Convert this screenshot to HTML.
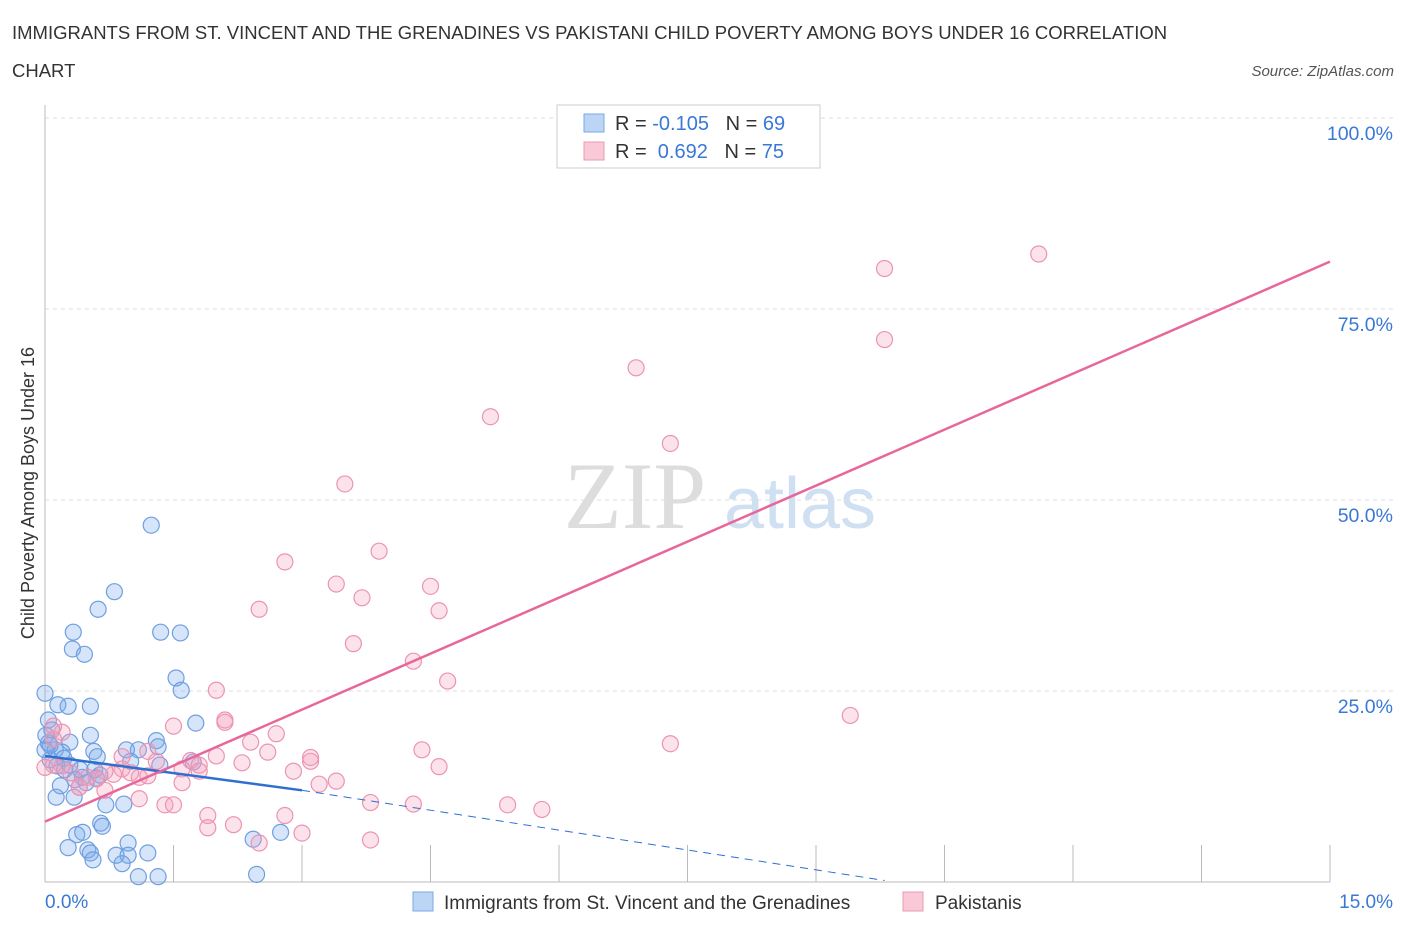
<!DOCTYPE html>
<html><head><meta charset="utf-8"><style>
body{margin:0;background:#fff;font-family:"Liberation Sans",sans-serif}
</style></head><body>
<svg id="c" width="1406" height="930" style="position:absolute;left:0;top:0">
<text x="12" y="39" font-size="18.5" fill="#333">IMMIGRANTS FROM ST. VINCENT AND THE GRENADINES VS PAKISTANI CHILD POVERTY AMONG BOYS UNDER 16 CORRELATION</text>
<text x="12" y="77" font-size="18.5" fill="#333">CHART</text>
<text x="1394" y="76" font-size="15" fill="#555" font-style="italic" text-anchor="end">Source: ZipAtlas.com</text>
<text x="635" y="528" font-size="95" fill="#ddd" font-family="Liberation Serif" text-anchor="middle">ZIP</text>
<text x="800" y="528" font-size="72" fill="#cfe0f3" text-anchor="middle">atlas</text>
<text transform="translate(34,493) rotate(-90)" font-size="18" fill="#333" text-anchor="middle">Child Poverty Among Boys Under 16</text>
<g id="grid"></g><g id="pts"></g><g id="lines"></g>
<text x="45" y="908" font-size="19" fill="#3a78d6">0.0%</text>
<text x="1393" y="908" font-size="19" fill="#3a78d6" text-anchor="end">15.0%</text>
<g>
<rect x="557" y="105" width="263" height="63" fill="#fff" stroke="#ccc"/>
<rect x="584" y="114" width="20" height="18" fill="#bcd5f5" stroke="#7aa7e6"/>
<rect x="584" y="142" width="20" height="18" fill="#f9c9d8" stroke="#eb9ab5"/>
<text x="615" y="130" font-size="20" fill="#333" xml:space="preserve">R = <tspan fill="#3a78d6">-0.105</tspan>   N = <tspan fill="#3a78d6">69</tspan></text>
<text x="615" y="158" font-size="20" fill="#333" xml:space="preserve">R =  <tspan fill="#3a78d6">0.692</tspan>   N = <tspan fill="#3a78d6">75</tspan></text>
</g>
<g>
<rect x="413" y="892" width="20" height="19" fill="#bcd5f5" stroke="#7aa7e6"/>
<text x="444" y="909" font-size="19" fill="#333">Immigrants from St. Vincent and the Grenadines</text>
<rect x="903" y="892" width="20" height="19" fill="#f9c9d8" stroke="#eb9ab5"/>
<text x="935" y="909" font-size="19" fill="#333">Pakistanis</text>
</g>
</svg>
<script>
const yTicks=[25,50,75,100];
const blueX=[0,0.15,0.04,0.27,0.08,0.53,0.33,0.32,0.46,0.62,0.81,1.24,1.35,1.58,1.53,1.59,1.76,1.30,1.32,1.09,0.95,0.53,0.57,0.29,0.04,0.12,0.20,0.06,0.14,0.23,0.61,0.58,0.35,0.44,0.48,0.18,0.13,0.34,0.71,0.92,1.00,1.34,1.73,0.60,0.37,0.44,0.27,0.50,0.53,0.56,0.65,0.67,0.97,0.97,1.20,0.83,0.90,1.09,1.32,2.47,2.43,2.75,0,0.06,0.22,0.29,0.41,0.64,0.01];
const blueY=[24.7,23.2,21.2,23.0,19.9,23.0,32.7,30.5,29.8,35.7,38.0,46.7,32.7,32.6,26.7,25.1,20.8,18.5,17.7,17.3,17.3,19.2,17.1,18.3,18.2,17.3,17.0,16.0,15.2,14.7,16.4,14.7,13.4,13.7,13.0,12.6,11.1,11.1,10.1,10.2,15.8,15.3,15.7,13.6,6.2,6.5,4.5,4.2,3.8,2.9,7.7,7.3,5.1,3.5,3.8,3.5,2.4,0.7,0.7,1.0,5.6,6.5,17.3,17.9,16.2,15.3,14.7,14.0,19.2];
const pinkX=[11.6,9.8,9.8,6.9,5.2,7.3,3.5,3.9,2.8,3.4,4.5,3.7,2.5,4.6,3.6,4.3,4.7,2.0,9.4,7.3,2.1,2.1,1.5,2.7,2.4,2.6,2.0,2.3,3.1,3.1,2.9,3.4,3.2,1.7,1.8,1.6,1.3,1.2,0.9,0.9,1.0,1.1,0.8,0.6,0.5,0.3,0.2,0.1,0.1,0.2,0.1,0.0,0.4,0.7,1.6,1.1,1.4,1.5,1.9,1.9,2.2,3.8,4.3,5.4,5.8,4.6,4.4,2.8,3.0,3.8,2.5,0.7,1.2,1.8,0.4];
const pinkY=[82.2,80.3,71,67.3,60.9,57.4,52.1,43.3,41.9,39,38.7,37.2,35.7,35.5,31.2,28.9,26.3,25.1,21.8,18.1,21.2,20.9,20.4,19.4,18.3,17.0,16.5,15.6,15.8,16.3,14.5,13.2,12.8,15.9,15.3,14.8,15.8,17.1,16.4,14.8,14.3,13.7,14.1,13.5,13.7,14.3,15.2,15.3,18.7,19.6,20.4,15.0,12.4,12.0,13.0,10.9,10.1,10.1,8.7,7.1,7.5,10.4,10.2,10.1,9.5,15.1,17.3,8.7,6.4,5.5,5.1,14.5,13.9,14.5,12.4];
const X=v=>45+v/15*1285, Y=v=>882-v*7.64;
const ns="http://www.w3.org/2000/svg";
function mk(t,a,p){const e=document.createElementNS(ns,t);for(const k in a)e.setAttribute(k,a[k]);p.appendChild(e);return e;}
const g=document.getElementById('grid');
for(const t of yTicks){
 const l=mk('line',{x1:45,x2:1393,y1:Y(t),y2:Y(t),stroke:'#ddd','stroke-dasharray':'4,4'},g);
 
 
 const tx=mk('text',{x:1393,y:Y(t)+22,'font-size':19.5,fill:'#3a78d6','text-anchor':'end'},g);tx.textContent=t.toFixed(1)+'%';
 
 
}
mk('line',{x1:45,x2:45,y1:105,y2:882,stroke:'#bbb'},g);
mk('line',{x1:45,x2:1330,y1:882,y2:882,stroke:'#bbb'},g);
for(let i=0;i<=10;i++){const l=mk('line',{x1:X(i*1.5),x2:X(i*1.5),y1:845,y2:882,stroke:'#bbb'},g);
 
 }
const p=document.getElementById('pts');
blueX.forEach((v,i)=>{const c=mk('circle',{cx:X(v),cy:Y(blueY[i]),r:8,fill:'rgba(120,170,235,0.3)',stroke:'#6f9fe0','stroke-width':1.2},p);
 
 });
pinkX.forEach((v,i)=>{const c=mk('circle',{cx:X(v),cy:Y(pinkY[i]),r:8,fill:'rgba(245,160,190,0.3)',stroke:'#eb94b2','stroke-width':1.2},p);
 
 });
const L=document.getElementById('lines');
let e=mk('line',{x1:X(0),y1:Y(16.5),x2:X(3),y2:Y(12.0),stroke:'#2f6fd0','stroke-width':2.5},L);


e=mk('line',{x1:X(3),y1:Y(12.0),x2:X(9.8),y2:Y(0.2),stroke:'#2f6fd0','stroke-width':1,'stroke-dasharray':'8,6'},L);


e=mk('line',{x1:X(0),y1:Y(7.9),x2:X(15),y2:Y(81.2),stroke:'#e8679a','stroke-width':2.5},L);


</script>
</body></html>
